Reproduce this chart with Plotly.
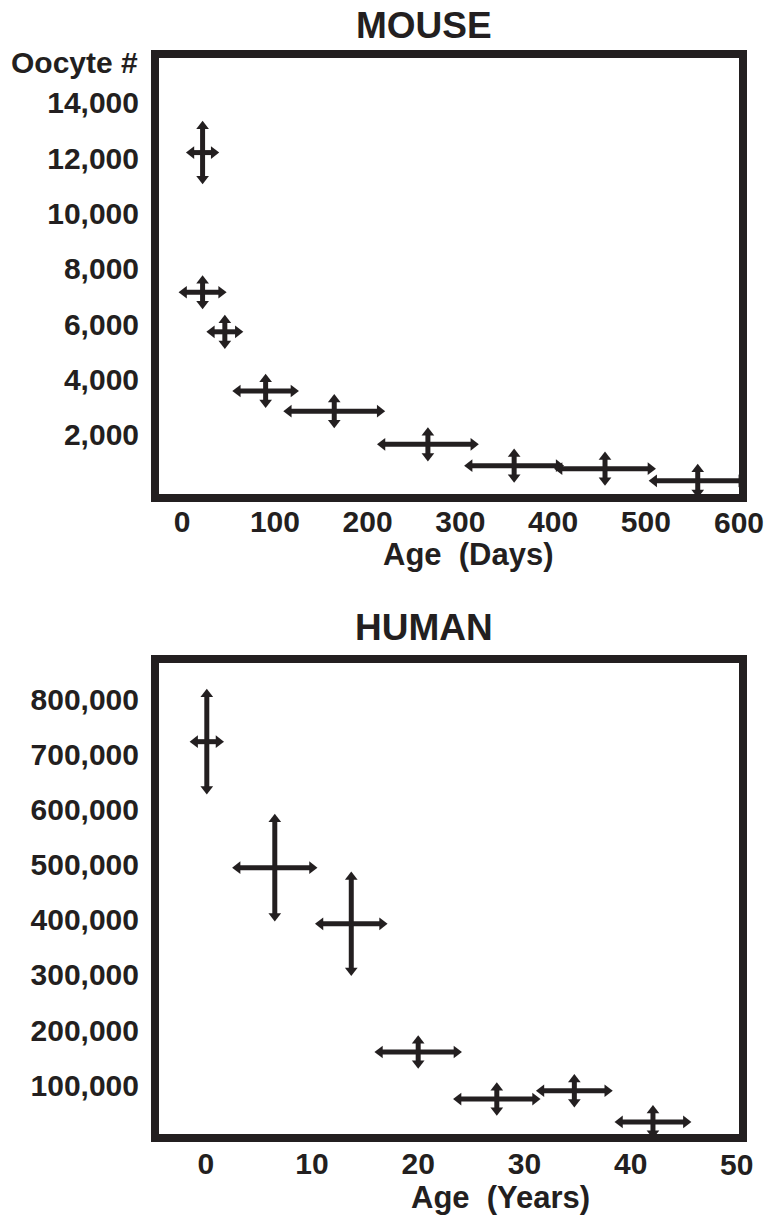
import plotly.graph_objects as go

# ---------------- data ----------------
mouse_age = [22, 22, 46, 90, 164, 265, 358, 456, 556]
mouse_age_err = [12, 20, 14, 30, 49, 49, 48, 49, 47]
mouse_oocytes = [12200, 7150, 5720, 3580, 2850, 1650, 880, 770, 330]
mouse_oocytes_err = [950, 420, 420, 420, 420, 420, 420, 420, 420]

human_age = [0.1, 6.5, 13.7, 20.0, 27.4, 34.7, 42.1]
human_age_err = [1.1, 3.5, 2.9, 3.6, 3.6, 3.1, 3.1]
human_oocytes = [724000, 495000, 393000, 160000, 74500, 89600, 33000]
human_oocytes_err = [86000, 88000, 85000, 20500, 20500, 20500, 20500]

mouse_xticks = [0, 100, 200, 300, 400, 500, 600]
mouse_yticks = [2000, 4000, 6000, 8000, 10000, 12000, 14000]
human_xticks = [0, 10, 20, 30, 40, 50]
human_yticks = [100000, 200000, 300000, 400000, 500000, 600000, 700000, 800000]

# ---------------- style ----------------
W, H = 775, 1216
INK = "#231f20"
FONT = "Liberation Sans, Arial, sans-serif"
TICK_SIZE = 30


def px(x):
    return x / W


def py(y):
    return 1 - y / H


fig = go.Figure()


def add_panel(xs, xe, ys, ye, xa, ya):
    # error bars
    fig.add_trace(go.Scatter(
        x=xs, y=ys, mode="markers", xaxis=xa, yaxis=ya,
        marker=dict(size=1, color=INK, opacity=0),
        error_x=dict(type="data", array=xe, symmetric=True, width=0,
                     thickness=5, color=INK),
        error_y=dict(type="data", array=ye, symmetric=True, width=0,
                     thickness=5, color=INK),
        showlegend=False, hoverinfo="skip"))
    # arrow heads at the ends of every bar
    ends = [
        ([x - e for x, e in zip(xs, xe)], ys, "triangle-left"),
        ([x + e for x, e in zip(xs, xe)], ys, "triangle-right"),
        (xs, [y + e for y, e in zip(ys, ye)], "triangle-up"),
        (xs, [y - e for y, e in zip(ys, ye)], "triangle-down"),
    ]
    for ex, ey, sym in ends:
        fig.add_trace(go.Scatter(
            x=ex, y=ey, mode="markers", xaxis=xa, yaxis=ya,
            marker=dict(symbol=sym, size=11, color=INK,
                        line=dict(width=0)),
            showlegend=False, hoverinfo="skip"))


add_panel(mouse_age, mouse_age_err, mouse_oocytes, mouse_oocytes_err, "x", "y")
add_panel(human_age, human_age_err, human_oocytes, human_oocytes_err, "x2", "y2")

# plot areas (inner edges of the frames), in pixels
L, R = 159, 739
M_TOP, M_BOT = 58, 494
H_TOP, H_BOT = 663, 1134
FW = 8  # frame stroke

tickfont = dict(family=FONT, size=TICK_SIZE, color=INK, weight="bold")
common_axis = dict(showgrid=False, zeroline=False, showline=False,
                   ticks="", tickfont=tickfont)

fig.update_layout(
    width=W, height=H,
    margin=dict(l=0, r=0, t=0, b=0),
    paper_bgcolor="white", plot_bgcolor="white",
    font=dict(family=FONT, color=INK),
    # last x tick label of each panel is drawn as an annotation below
    xaxis=dict(domain=[px(L), px(R)], range=[-25, 600.5],
               tickvals=mouse_xticks[:-1], ticklabelstandoff=7,
               anchor="y", **common_axis),
    yaxis=dict(domain=[py(M_BOT), py(M_TOP)], range=[-145, 15620],
               tickvals=mouse_yticks, tickformat=",d", ticklabelstandoff=19,
               anchor="x", **common_axis),
    xaxis2=dict(domain=[px(L), px(R)], range=[-4.4, 50.2],
                tickvals=human_xticks[:-1], ticklabelstandoff=9,
                anchor="y2", **common_axis),
    yaxis2=dict(domain=[py(H_BOT), py(H_TOP)], range=[11000, 867000],
                tickvals=human_yticks, tickformat=",d", ticklabelstandoff=19,
                anchor="x2", **common_axis),
)

# thick frames
for top, bot in [(M_TOP, M_BOT), (H_TOP, H_BOT)]:
    fig.add_shape(type="rect", xref="paper", yref="paper",
                  x0=px(L - FW / 2), x1=px(R + FW / 2),
                  y0=py(bot + FW / 2), y1=py(top - FW / 2),
                  line=dict(color=INK, width=FW), fillcolor="rgba(0,0,0,0)",
                  layer="above")

texts = [
    ("MOUSE", 424, 25, "center", 37),
    ("HUMAN", 424, 627, "center", 37),
    ("Oocyte #", 140, 62, "right", 30),
    ("Age  (Days)", 469, 554, "center", 31),
    ("Age  (Years)", 500, 1197, "center", 31),
]
for t, x, y, xa, s in texts:
    fig.add_annotation(text=t, x=px(x), y=py(y), xanchor=xa, yanchor="middle",
                       xref="paper", yref="paper", showarrow=False,
                       font=dict(family=FONT, color=INK, size=s, weight="bold"))

# last tick labels (at the right edge of each frame)
for val, xr, ypix in [(mouse_xticks[-1], "x", 522), (human_xticks[-1], "x2", 1164)]:
    fig.add_annotation(text=str(val), x=val, xref=xr, y=py(ypix), yref="paper",
                       xanchor="center", yanchor="middle", showarrow=False,
                       font=dict(family=FONT, color=INK, size=TICK_SIZE,
                                 weight="bold"))

fig.write_html(
    "out.html",
    config={"displayModeBar": False},
    post_script=(
        "document.documentElement.style.overflow='hidden';"
        "document.body.style.margin='0';"
        "document.body.style.overflow='hidden';"
    ),
)
